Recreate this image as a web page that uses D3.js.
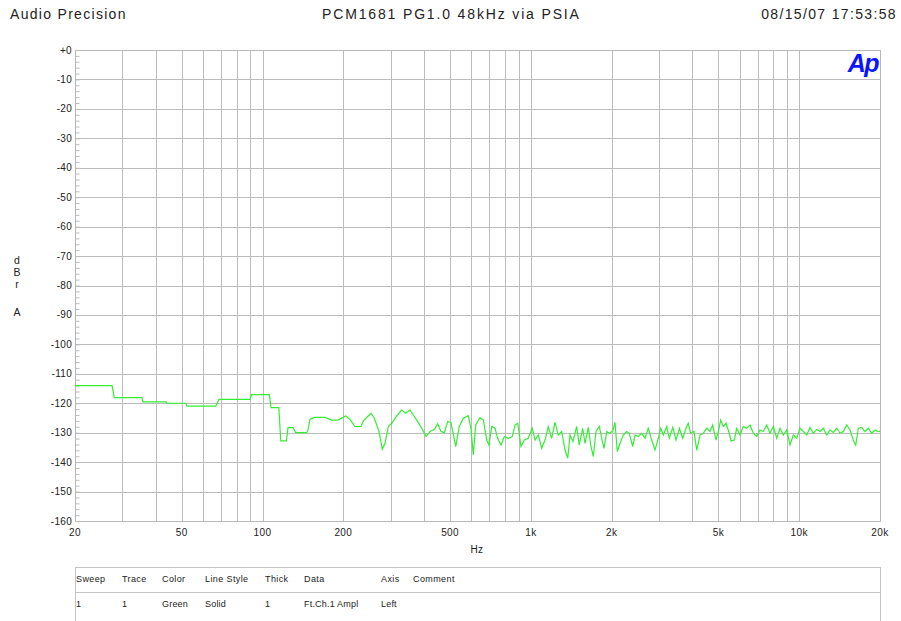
<!DOCTYPE html>
<html>
<head>
<meta charset="utf-8">
<script src="https://cdn.jsdelivr.net/npm/d3@7"></script>
<style>
  body { margin: 0; background: #fff; }
  svg text { font-family: "Liberation Sans", Arial, sans-serif; fill: #222; }
</style>
</head>
<body>
<div id="container"></div>
<script>
/* DATA */
var freqHz = [20, 27.5, 28, 35.5, 35.8, 43.7, 44, 51.7, 52.3, 66.9, 68.8, 89.8, 91, 106, 107.5, 115,
  116.9, 122.8, 124.4, 129.9, 132.9, 146, 147.7, 150.2, 155.5, 170.9, 181, 191, 204, 211.8, 221, 232.8,
  237.4, 253.6, 261, 271.6, 279.4, 286, 294.2, 303, 316.2, 330, 341.6, 354.4, 367.8, 380.6, 392, 406.6,
  420.8, 436.6, 449.6, 462.4, 475.8, 489.8, 503.8, 524.6, 541, 560, 584.4, 598, 610, 622.8, 646, 664.8,
  684.6, 698, 714.4, 735, 752, 773.8, 796, 823.8, 852.6, 872.6, 893, 918.6, 945, 978, 1012, 1036, 1066,
  1097, 1129, 1161, 1195, 1230, 1265, 1303, 1340, 1372, 1399, 1435, 1481, 1515, 1560, 1591, 1637, 1671,
  1709, 1748, 1799, 1836, 1873, 1917, 1960, 2018, 2058, 2099, 2149, 2210, 2275, 2326, 2396, 2444, 2514,
  2588, 2662, 2738, 2820, 2901, 2984, 3046, 3115, 3208, 3281, 3378, 3475, 3575, 3680, 3785, 3860, 3940,
  4054, 4150, 4268, 4390, 4520, 4650, 4758, 4896, 4994, 5098, 5214, 5336, 5488, 5570, 5730, 5848, 6016,
  6188, 6372, 6556, 6744, 6944, 7144, 7348, 7566, 7784, 8008, 8244, 8482, 8726, 8984, 9242, 9508, 9790,
  10072, 10360, 10668, 10974, 11288, 11622, 11956, 12298, 12664, 13026, 13398, 13796, 14192, 14600,
  15030, 15462, 15906, 16240, 16606, 17096, 17586, 18092, 18628, 19164, 19712, 20000];
var levelDb = [-114, -114, -118.1, -118.1, -119.5, -119.5, -120, -120, -121, -121, -118.7, -118.7, -117.1, -117.1, -121.5, -121.5,
  -132.8, -132.8, -128.3, -128.3, -130, -130, -129.1, -125.5, -124.8, -124.8, -125.7, -125.7, -124.3, -125.5, -127.9, -127.9,
  -126, -123.4, -125.1, -129.6, -135.6, -133.6, -127.9, -126.8, -124.3, -122.3, -123.4, -122.3, -124.5, -126.6, -128.5, -131.3,
  -129.6, -128.9, -127, -129.6, -130, -126.2, -126.6, -134.7, -127.9, -125.1, -124.2, -128.5, -137.6, -127.4, -124.9, -125.7,
  -132.5, -134.2, -127.9, -128.5, -131.9, -134.2, -131.3, -131.9, -131.3, -127.4, -126.8, -134.7, -132.5, -131.9, -128.5, -132.5, -130.8,
  -135.3, -132.5, -127.9, -131.9, -126.5, -130.8, -129.6, -135.9, -138.7, -130.8, -133, -127.9, -134.2, -128.5, -133.6, -128.2, -134.2,
  -138.1, -129.6, -127.9, -131.9, -135.3, -129.6, -130.2, -129.4, -126.5, -136.4, -133.6, -130.8, -129.6, -130.2, -134.7, -130.8, -131.3,
  -130.2, -131.9, -128.5, -132.5, -135.9, -131.9, -128.5, -130.8, -127.9, -131.9, -128.2, -132.5, -128.5, -131.9, -128.5, -126.8, -130.2,
  -129.6, -135.9, -130.8, -130.2, -128.5, -129.6, -127.4, -132.5, -129.6, -125.7, -127.9, -126.8, -130.2, -132.8, -132.5, -128.5, -130.8,
  -127.9, -128.5, -127.4, -130.2, -131.3, -129.1, -129.6, -127.4, -130.2, -127.9, -131.9, -128.5, -130.8, -129.1, -134.2, -130.8, -131.9,
  -128.5, -129.6, -130.8, -128.2, -130.2, -128.9, -129.6, -128.5, -130.8, -129.1, -129.9, -128.5, -130.2, -129.6,
  -127.4, -129.1, -132.5, -134.2, -128.5, -128.2, -129.6, -128.5, -130.2, -129.1, -129.6, -129.5];

var yTicks = [0, -10, -20, -30, -40, -50, -60, -70, -80, -90, -100, -110, -120, -130, -140, -150, -160];
var xTickVals = [20, 50, 100, 200, 500, 1000, 2000, 5000, 10000, 20000];
var xTickLabels = ["20", "50", "100", "200", "500", "1k", "2k", "5k", "10k", "20k"];
var yUnitLetters = ["d", "B", "r", "A"];

var legendHeads = ["Sweep", "Trace", "Color", "Line Style", "Thick", "Data", "Axis", "Comment"];
var legendRow = ["1", "1", "Green", "Solid", "1", "Ft.Ch.1 Ampl", "Left", ""];

var width = 901, height = 621;
var pLeft = 75, pRight = 880, pTop = 50, pBottom = 521;

var svg = d3.select('#container').append('svg')
  .attr('width', width)
  .attr('height', height);

/* SCALES */
var x = d3.scaleLog().domain([20, 20000]).range([pLeft, pRight]);
var y = d3.scaleLinear().domain([-160, 0]).range([pBottom, pTop]);

// header
svg.append('text').attr('x', 10).attr('y', 19).style('font-size', '14px').style('letter-spacing', '1.3px')
  .text('Audio Precision');
svg.append('text').attr('x', 322).attr('y', 19).style('font-size', '14px').style('letter-spacing', '1.85px')
  .text('PCM1681 PG1.0 48kHz via PSIA');
svg.append('text').attr('x', 897).attr('y', 19).attr('text-anchor', 'end').style('font-size', '14px')
  .style('letter-spacing', '1.35px').text('08/15/07 17:53:58');

/* GRID */
var vLines = [];
[10, 100, 1000, 10000].forEach(function(dec) {
  for (var m = 1; m < 10; m++) {
    var f = dec * m;
    if (f >= 20 && f <= 20000) vLines.push(f);
  }
});

svg.append('g').selectAll('line').data(vLines).enter().append('line')
  .attr('x1', function(d) { return Math.round(x(d)) + 0.5; })
  .attr('x2', function(d) { return Math.round(x(d)) + 0.5; })
  .attr('y1', pTop).attr('y2', pBottom)
  .style('stroke', '#bcbcbc');

svg.append('g').selectAll('line').data(yTicks).enter().append('line')
  .attr('x1', pLeft).attr('x2', pRight)
  .attr('y1', function(d) { return Math.round(y(d)) + 0.5; })
  .attr('y2', function(d) { return Math.round(y(d)) + 0.5; })
  .style('stroke', '#bcbcbc');

// frame
svg.append('rect').attr('x', pLeft + 0.5).attr('y', pTop + 0.5)
  .attr('width', pRight - pLeft).attr('height', pBottom - pTop)
  .style('fill', 'none').style('stroke', '#b8b8b8');

// y axis with minor ticks every 2 dB
var yAxis = d3.axisLeft(y)
  .tickValues(d3.range(-160, 1, 2))
  .tickSize(-4)
  .tickFormat('');
var yg = svg.append('g').attr('transform', 'translate(' + (pLeft + 0.5) + ',0)').call(yAxis);
yg.select('.domain').remove();
yg.selectAll('line').style('stroke', '#bbb');

svg.append('g').selectAll('text').data(yTicks).enter().append('text')
  .attr('x', pLeft - 3)
  .attr('y', function(d) { return y(d) + 3.5; })
  .attr('text-anchor', 'end')
  .style('font-size', '10px')
  .style('letter-spacing', '0.3px')
  .text(function(d) { return d === 0 ? '+0' : d; });

svg.append('g').selectAll('text').data(xTickVals).enter().append('text')
  .attr('x', function(d) { return x(d); })
  .attr('y', 536)
  .attr('text-anchor', 'middle')
  .style('font-size', '10px')
  .style('letter-spacing', '0.4px')
  .text(function(d, i) { return xTickLabels[i]; });

svg.append('text').attr('x', 477).attr('y', 553).attr('text-anchor', 'middle')
  .style('font-size', '10px').style('letter-spacing', '0.4px').text('Hz');

var unitY = [264, 276, 288, 316];
svg.append('g').selectAll('text').data(yUnitLetters).enter().append('text')
  .attr('x', 17)
  .attr('y', function(d, i) { return unitY[i]; })
  .attr('text-anchor', 'middle')
  .style('font-size', '10.5px')
  .text(function(d) { return d; });

// Ap logo
svg.append('text').attr('x', 878).attr('y', 72).attr('text-anchor', 'end')
  .style('font-size', '25px').style('font-weight', 'bold').style('font-style', 'italic')
  .style('fill', '#0a14ff').style('letter-spacing', '-1.5px').text('Ap');

/* TRACE */
var pts = freqHz.map(function(f, i) { return [f, levelDb[i]]; });
var line = d3.line().x(function(d) { return x(d[0]); }).y(function(d) { return y(d[1]); });
svg.append('path').datum(pts).attr('d', line)
  .style('fill', 'none').style('stroke', '#33ee33').style('stroke-width', 1.2);

/* LEGEND TABLE */
var colX = [76, 122, 162, 205, 265, 304, 381, 413];
svg.append('rect').attr('x', pLeft + 0.5).attr('y', 567.5).attr('width', pRight - pLeft).attr('height', 70)
  .style('fill', 'none').style('stroke', '#c4c4c4');
svg.append('line').attr('x1', pLeft).attr('x2', pRight).attr('y1', 592.5).attr('y2', 592.5)
  .style('stroke', '#c4c4c4');
svg.append('g').selectAll('text').data(legendHeads).enter().append('text')
  .attr('x', function(d, i) { return colX[i]; }).attr('y', 582)
  .style('font-size', '9px').style('letter-spacing', '0.4px').text(function(d) { return d; });
svg.append('g').selectAll('text').data(legendRow).enter().append('text')
  .attr('x', function(d, i) { return colX[i]; }).attr('y', 607)
  .style('font-size', '9px').style('letter-spacing', '0.2px').text(function(d) { return d; });
</script>
</body>
</html>
